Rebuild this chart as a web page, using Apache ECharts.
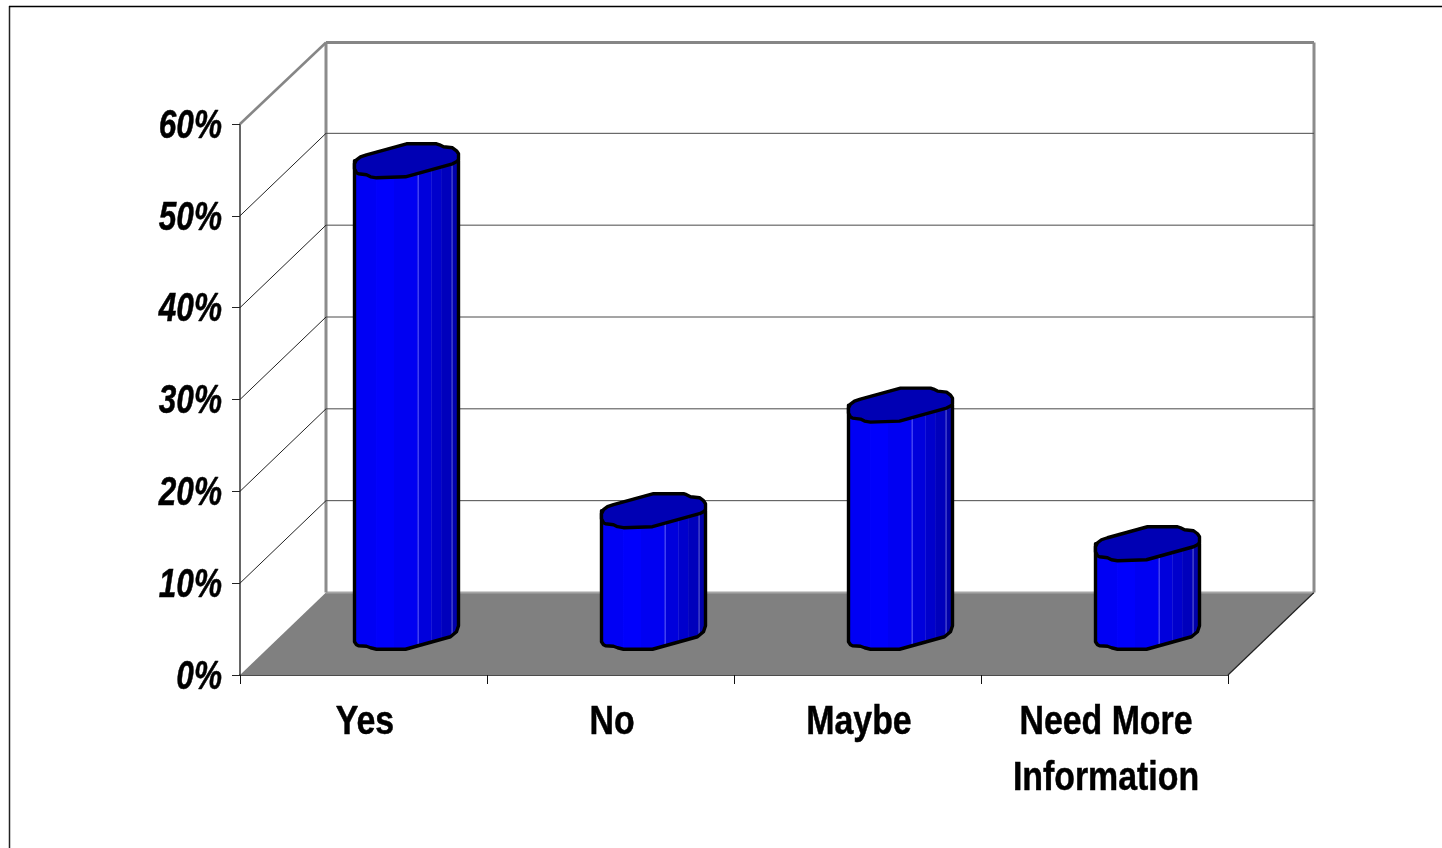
<!DOCTYPE html>
<html><head><meta charset="utf-8">
<style>html,body{margin:0;padding:0;background:#fff}#c{width:1442px;height:848px}</style>
<script src="https://cdn.jsdelivr.net/npm/echarts@6/dist/echarts.min.js"></script>
</head><body><div id="c"></div>
<script>
const categories = ['Yes', 'No', 'Maybe', 'Need More\nInformation'];
const values = [51.5, 13.4, 24.9, 9.8];
const yTicks = [0, 10, 20, 30, 40, 50, 60];
const yTickLabels = ['0%', '10%', '20%', '30%', '40%', '50%', '60%'];

const DEPTH_X = 86, DEPTH_Y = -82.5;
const FONT = '"Liberation Sans"';
const capOutline = [[-52,8],[-52,3],[-50,-1],[-46,-4],[-40,-6],[0,-17],[30,-17],[33,-16],[37,-14],[46,-13],[50,-10],[52,-7],[52,-1],[50,1],[46,3],[-1,16],[-30,17],[-36,16],[-40,14],[-48,13],[-50,12]];
const lowerOutline = [[52,-8],[50,-2],[44,3],[-1,15.5],[-30,15.5],[-36,14],[-40,12.5],[-48,12],[-50,11],[-52,8]];
const strips = [
  [-52,'#0000f4'],[-29,'#0000fc'],[-12,'#0000f2'],[11,'#0000dc'],[24,'#0000cc'],[34,'#0000bc'],[44,'#0000aa'],[52,null]
];
const lineColors = {'-29':'#1c1cff','11':'#4040f4','24':'#4848ec','34':'#4848e0','44':'#4040cc'};
function bodyFill(){
  const stops=[];
  for(let i=0;i<strips.length-1;i++){
    const a=(strips[i][0]+52)/104,b=(strips[i+1][0]+52)/104,c=strips[i][1];
    const lc=lineColors[String(strips[i+1][0])];
    stops.push({offset:a,color:c});
    if(lc){
      stops.push({offset:b-0.006,color:c},{offset:b-0.006,color:lc},{offset:b+0.006,color:lc},{offset:b+0.006,color:strips[i+1][1]});
    } else {
      stops.push({offset:b,color:c});
    }
  }
  return new echarts.graphic.LinearGradient(0,0,1,0,stops);
}
const chart = echarts.init(document.getElementById('c'), null, {renderer:'canvas'});
chart.setOption({
  animation:false,
  backgroundColor:'#fff',
  grid:{left:240,right:214,top:124,bottom:173},
  graphic:[
    {type:'line',silent:true,shape:{x1:9.5,y1:6,x2:9.5,y2:848},style:{stroke:'#222',lineWidth:1.5}},
    {type:'line',silent:true,shape:{x1:9,y1:6.5,x2:1442,y2:6.5},style:{stroke:'#000',lineWidth:1.5}}
  ],
  xAxis:{type:'category',data:categories,boundaryGap:true,
    axisLine:{lineStyle:{color:'#111',width:1.5}},
    axisTick:{show:true,alignWithLabel:false,length:9,lineStyle:{color:'#111',width:1}},
    axisLabel:{show:false}},
  yAxis:{type:'value',min:0,max:60,interval:10,
    splitLine:{show:false},
    axisLine:{show:true,lineStyle:{color:'#333',width:1.5}},
    axisTick:{show:true,length:8,lineStyle:{color:'#222',width:1}},
    axisLabel:{show:false}},
  series:[
    {type:'custom',z:1,silent:true,data:yTicks.map((t,i)=>[0,t,i]),encode:{x:0,y:1},
      renderItem(params,api){
        const cs=params.coordSys, t=api.value(1), y=api.coord([0,t])[1];
        const x0=cs.x, x1=cs.x+cs.width, bx0=x0+DEPTH_X, bx1=x1+DEPTH_X, by=y+DEPTH_Y;
        const top=t===60, base=t===0;
        const kids=[];
        if(base){
          const h=api.size([0,60])[1]-1;
          kids.push({type:'polygon',shape:{points:[[x0,y],[x1,y],[bx1,by],[bx0,by]]},style:{fill:'#808080'}});
          kids.push({type:'line',shape:{x1:bx0,y1:by,x2:bx1,y2:by},style:{stroke:'#a6a6a6',lineWidth:2}});
          kids.push({type:'line',shape:{x1:x1,y1:y,x2:bx1,y2:by},style:{stroke:'#222',lineWidth:1.2}});
          kids.push({type:'line',shape:{x1:bx0,y1:by,x2:bx0,y2:by-h},style:{stroke:'#8c8c8c',lineWidth:3}});
          kids.push({type:'line',shape:{x1:bx1,y1:by,x2:bx1,y2:by-h},style:{stroke:'#8c8c8c',lineWidth:3}});
        } else if(top){
          kids.push({type:'line',shape:{x1:x0,y1:y,x2:bx0,y2:by+1},style:{stroke:'#868686',lineWidth:2.5}});
          kids.push({type:'line',shape:{x1:bx0,y1:by+1,x2:bx1,y2:by+1},style:{stroke:'#868686',lineWidth:3}});
        } else {
          kids.push({type:'line',shape:{x1:x0,y1:y,x2:bx0,y2:by},style:{stroke:'#222',lineWidth:1}});
          kids.push({type:'line',shape:{x1:bx0,y1:by,x2:bx1,y2:by},style:{stroke:'#4a4a4a',lineWidth:1}});
        }
        kids.push({type:'text',x:222,y:y+2.5,scaleX:0.77,style:{text:yTickLabels[api.value(2)],x:0,y:0,align:'right',verticalAlign:'middle',fill:'#000',stroke:'#000',lineWidth:0.5,fontFamily:FONT,fontWeight:'bold',fontStyle:'italic',fontSize:41}});
        return {type:'group',children:kids};
      }},
    {type:'custom',z:3,silent:true,data:values.map((v,i)=>[i,v]),encode:{x:0,y:1},
      renderItem(params,api){
        const i=api.value(0), v=api.value(1);
        const t=api.coord([i,v]), b=api.coord([i,0]);
        const tx=t[0]+DEPTH_X/2, ty=t[1]+DEPTH_Y/2, by=b[1]+DEPTH_Y/2;
        const body=[[tx-52,ty],[tx+52,ty]];
        lowerOutline.forEach(p=>body.push([tx+p[0],by+p[1]]));
        const cap=capOutline.map(p=>[tx+p[0],ty+p[1]]);
        const style={stroke:'#000',lineWidth:3.4,lineJoin:'round'};
        return {type:'group',children:[
          {type:'polygon',shape:{points:body},style:Object.assign({fill:bodyFill()},style)},
          {type:'polygon',shape:{points:cap},style:Object.assign({fill:'#0000b4'},style)},
          {type:'text',x:b[0]+1.5,y:695,scaleX:0.826,style:{text:categories[i],x:0,y:0,align:'center',verticalAlign:'top',fill:'#000',stroke:'#000',lineWidth:0.5,fontFamily:FONT,fontWeight:'bold',fontSize:41,lineHeight:56}}
        ]};
      }}
  ]
});
</script></body></html>
